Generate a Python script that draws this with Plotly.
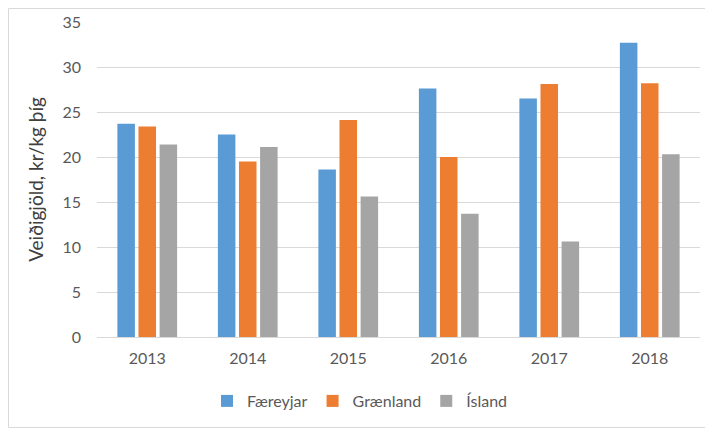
import plotly.graph_objects as go

years = ["2013", "2014", "2015", "2016", "2017", "2018"]
faereyjar = [23.7, 22.5, 18.6, 27.6, 26.5, 32.7]
graenland = [23.4, 19.5, 24.1, 20.0, 28.1, 28.2]
island = [21.4, 21.1, 15.6, 13.7, 10.6, 20.3]
series_names = ["Færeyjar", "Grænland", "Ísland"]
colors = ["#5B9BD5", "#ED7D31", "#A5A5A5"]
y_ticks = [0, 5, 10, 15, 20, 25, 30, 35]

W, H = 713, 429
ml, mr, mt, mb = 89, 21, 14, 100
pw, ph = W - ml - mr, H - mt - mb

fig = go.Figure()
for name, vals, c in zip(series_names, [faereyjar, graenland, island], colors):
    fig.add_trace(go.Bar(x=years, y=vals, name=name, marker=dict(color=c, line=dict(width=0))))

font = "Lato, 'Noto Sans', sans-serif"
fig.update_layout(
    width=W, height=H, autosize=False,
    margin=dict(l=ml, r=mr, t=mt, b=mb, pad=0, autoexpand=False),
    paper_bgcolor="white", plot_bgcolor="white",
    barmode="group", bargap=0.37, bargroupgap=0.17,
    font=dict(family=font, color="#595959", size=16),
    showlegend=True,
    legend=dict(orientation="h", x=(352 - ml) / pw, xanchor="center",
                y=(mt + ph - 393) / ph, yanchor="middle",
                font=dict(size=16, color="#595959"), itemwidth=30,
                traceorder="normal"),
    xaxis=dict(showgrid=False, showline=True, linecolor="#D9D9D9", linewidth=1, automargin=False,
               ticks="", tickfont=dict(size=16, color="#595959"), ticklabelstandoff=7),
    yaxis=dict(range=[0, 35], tickvals=y_ticks, showgrid=True, gridcolor="#D9D9D9", automargin=False,
               gridwidth=1, zeroline=False, showline=False, ticks="",
               tickfont=dict(size=16, color="#595959"), ticklabelstandoff=15,
               title=dict(text="Veiðigjöld, kr/kg þíg", font=dict(size=19, color="#404040"), standoff=13)),
    shapes=[dict(type="rect", xref="paper", yref="paper",
                 x0=-(ml - 0.5) / pw, x1=1 + (mr - 1) / pw,
                 y0=-(mb - 9.5) / ph, y1=1 + (mt - 0.5) / ph,
                 line=dict(color="#D9D9D9", width=1), layer="below")],
)
fig.write_html("out.html")
